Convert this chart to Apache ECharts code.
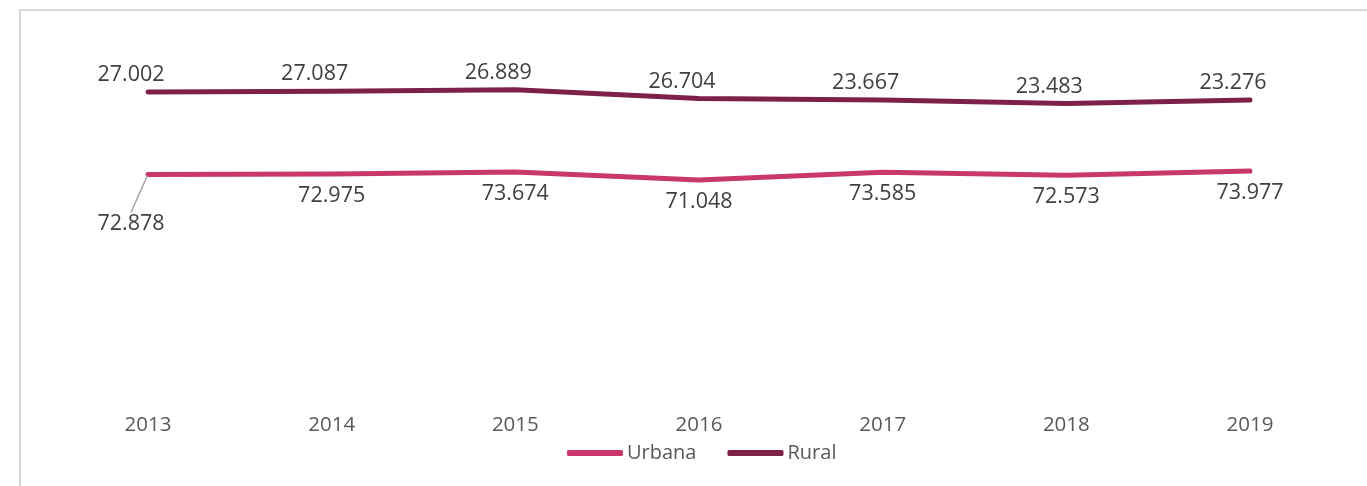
<!DOCTYPE html>
<html>
<head>
<meta charset="utf-8">
<script src="https://cdn.jsdelivr.net/npm/echarts@6/dist/echarts.min.js"></script>
<style>
  html, body { margin: 0; padding: 0; background: #fff; }
  #wrap { position: relative; width: 1367px; height: 486px; overflow: hidden; }
  #frame { position: absolute; left: 19px; top: 9px; width: 1400px; height: 500px;
           border-left: 2px solid #d9d9d9; border-top: 2px solid #d9d9d9; box-sizing: border-box; }
  #chart { position: absolute; left: 0; top: 0; width: 1367px; height: 486px; }
</style>
</head>
<body>
<div id="wrap">
  <div id="frame"></div>
  <div id="chart"></div>
</div>
<script>
// Years on the horizontal axis
const years = ['2013', '2014', '2015', '2016', '2017', '2018', '2019'];
// Share by area (stacked: Urbana at the bottom, Rural on top)
const urbana = [72.878, 72.975, 73.674, 71.048, 73.585, 72.573, 73.977];
const rural = [27.002, 27.087, 26.889, 26.704, 23.667, 23.483, 23.276];

const labelFont = { fontFamily: 'Open Sans', fontSize: 21.5, color: '#404040' };
const fmt = p => Number(p.value).toFixed(3);

const chart = echarts.init(document.getElementById('chart'), null, { renderer: 'canvas' });
chart.setOption({
  animation: false,
  backgroundColor: 'transparent',
  grid: { left: 148, right: 117, top: 61, bottom: 89 },
  legend: {
    bottom: 18,
    left: 562,
    icon: 'roundRect',
    itemWidth: 56,
    itemHeight: 6,
    itemGap: 31,
    textStyle: { fontFamily: 'Open Sans', fontSize: 20, color: '#595959', padding: [0, 0, 0, -1] },
    data: ['Urbana', 'Rural']
  },
  xAxis: {
    type: 'category',
    data: years,
    boundaryGap: false,
    axisLine: { show: false },
    axisTick: { show: false },
    axisLabel: { margin: 18, fontFamily: 'Open Sans', fontSize: 20.5, color: '#595959' }
  },
  yAxis: {
    type: 'value',
    min: 0,
    max: 110,
    show: false,
    splitLine: { show: false }
  },
  series: [
    {
      name: 'Urbana',
      type: 'line',
      stack: 'total',
      symbol: 'circle',
      symbolSize: 2,
      showSymbol: true,
      color: '#c9376c',
      lineStyle: { width: 5, cap: 'round', join: 'round' },
      data: urbana.map((v, i) => i === 0
        ? { value: v, labelLine: { show: true, lineStyle: { color: '#a6a6a6', width: 1.5 } } }
        : v),
      label: {
        show: true,
        position: 'bottom',
        distance: 10,
        offset: [-17, 0],
        formatter: fmt,
        ...labelFont
      },
      labelLayout: p => (p.dataIndex === 0 ? { dx: -17, dy: 27 } : {}),
      z: 3
    },
    {
      name: 'Rural',
      type: 'line',
      stack: 'total',
      symbol: 'circle',
      symbolSize: 2,
      showSymbol: true,
      color: '#7e2148',
      lineStyle: { width: 5, cap: 'round', join: 'round' },
      data: rural,
      label: {
        show: true,
        position: 'top',
        distance: 5,
        offset: [-17, 0],
        formatter: fmt,
        ...labelFont
      },
      z: 2
    }
  ]
});
</script>
</body>
</html>
